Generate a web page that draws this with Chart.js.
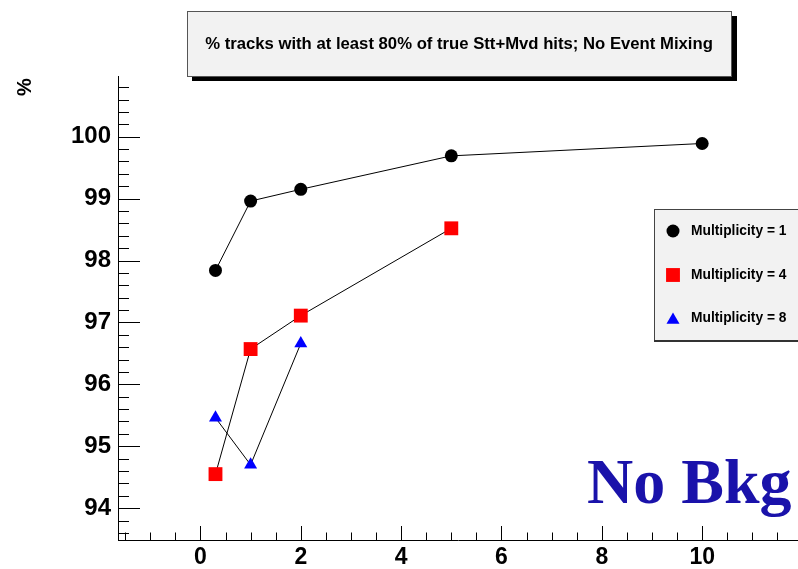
<!DOCTYPE html>
<html>
<head>
<meta charset="utf-8">
<script src="https://cdn.jsdelivr.net/npm/chart.js@4.4.1/dist/chart.umd.min.js"></script>
<style>
  html, body { margin: 0; padding: 0; background: #fff; }
  #wrap { width: 798px; height: 569px; position: relative; }
</style>
</head>
<body>
<div id="wrap"><canvas id="chart" width="798" height="569"></canvas></div>
<script>
// values
var titleText = '% tracks with at least 80% of true Stt+Mvd hits; No Event Mixing';
var xMult1 = [0.3, 1, 2, 5, 10];
var yMult1 = [97.84, 98.96, 99.15, 99.69, 99.89];
var xMult4 = [0.3, 1, 2, 5];
var yMult4 = [94.55, 96.57, 97.11, 98.52];
var xMult8 = [0.3, 1, 2];
var yMult8 = [95.46, 94.70, 96.66];
var xTicks = [0, 2, 4, 6, 8, 10];
var yTicks = [94, 95, 96, 97, 98, 99, 100];
var seriesNames = ['Multiplicity = 1', 'Multiplicity = 4', 'Multiplicity = 8'];

function pairs(xs, ys) {
  return xs.map(function(x, i) { return {x: x, y: ys[i]}; });
}

var markers = [
  {style: 'circle', color: '#000000', radius: 6.5},
  {style: 'rect', color: '#ff0000', radius: 9.8},
  {style: 'triangle', color: '#0000ff', radius: 7.5}
];

function dataset(name, xs, ys, m) {
  return {
    label: name,
    data: pairs(xs, ys),
    borderColor: '#000',
    borderWidth: 1,
    pointStyle: m.style,
    pointRadius: m.radius,
    pointHoverRadius: m.radius,
    pointBackgroundColor: m.color,
    pointBorderColor: m.color,
    pointBorderWidth: 0,
    tension: 0,
    fill: false
  };
}

// root-style furniture: inward ticks, boxes, labels
var furniture = {
  id: 'furniture',
  afterDraw: function(chart) {
    var ctx = chart.ctx;
    var xs = chart.scales.x, ys = chart.scales.y;
    var area = chart.chartArea;
    ctx.save();
    ctx.strokeStyle = '#000';
    ctx.lineWidth = 1;

    // y ticks every 0.2
    for (var i = Math.ceil(ys.min * 5); i <= Math.floor(ys.max * 5); i++) {
      var py = Math.round(ys.getPixelForValue(i / 5)) + 0.5;
      var len = (i % 5 === 0) ? 22 : 11;
      ctx.beginPath();
      ctx.moveTo(area.left, py);
      ctx.lineTo(area.left + len, py);
      ctx.stroke();
    }
    // x ticks every 0.5
    for (var j = Math.ceil(xs.min * 2); j <= Math.floor(xs.max * 2); j++) {
      var px = Math.round(xs.getPixelForValue(j / 2)) + 0.5;
      var l2 = (j % 4 === 0) ? 14 : 7.5;
      ctx.beginPath();
      ctx.moveTo(px, area.bottom);
      ctx.lineTo(px, area.bottom - l2);
      ctx.stroke();
    }

    // title box
    ctx.fillStyle = '#000';
    ctx.fillRect(192, 16, 545, 65);
    ctx.fillStyle = '#f2f2f2';
    ctx.fillRect(187, 11, 545, 66);
    ctx.strokeStyle = '#555';
    ctx.strokeRect(187.5, 11.5, 544, 65);
    ctx.fillStyle = '#000';
    ctx.font = 'bold 16.7px "Liberation Sans", Arial, sans-serif';
    ctx.textAlign = 'center';
    ctx.textBaseline = 'middle';
    ctx.fillText(titleText, 459, 44);

    // legend box
    ctx.fillStyle = '#f2f2f2';
    ctx.fillRect(654, 209, 150, 132);
    ctx.strokeStyle = '#444';
    ctx.lineWidth = 1;
    ctx.strokeRect(654.5, 209.5, 150, 131);
    ctx.fillStyle = '#333';
    ctx.fillRect(654, 340, 150, 2);
    var rows = [231, 275, 318];
    ctx.font = 'bold 13.8px "Liberation Sans", Arial, sans-serif';
    ctx.textAlign = 'left';
    chart.data.datasets.forEach(function(ds, k) {
      ctx.fillStyle = ds.pointBackgroundColor;
      ctx.strokeStyle = ds.pointBackgroundColor;
      Chart.helpers.drawPoint(ctx, {pointStyle: ds.pointStyle, radius: ds.pointRadius, borderWidth: 0}, 673, rows[k] + (ds.pointStyle === 'triangle' ? 2 : 0));
      ctx.fillStyle = '#000';
      ctx.fillText(ds.label, 691, rows[k]);
    });

    // axis title
    ctx.save();
    ctx.translate(25, 87);
    ctx.rotate(-Math.PI / 2);
    ctx.font = 'bold 20px "Liberation Sans", Arial, sans-serif';
    ctx.textAlign = 'center';
    ctx.textBaseline = 'middle';
    ctx.fillStyle = '#000';
    ctx.fillText('%', 0, 0);
    ctx.restore();

    // no background label
    ctx.font = 'bold 64px "Liberation Serif", "Times New Roman", serif';
    ctx.fillStyle = '#1a12aa';
    ctx.textAlign = 'left';
    ctx.textBaseline = 'alphabetic';
    ctx.fillText('No Bkg', 587, 503);
    ctx.restore();
  }
};

var ctx = document.getElementById('chart').getContext('2d');
var chart = new Chart(ctx, {
  type: 'line',
  data: {
    datasets: [
      dataset(seriesNames[0], xMult1, yMult1, markers[0]),
      dataset(seriesNames[1], xMult4, yMult4, markers[1]),
      dataset(seriesNames[2], xMult8, yMult8, markers[2])
    ]
  },
  options: {
    responsive: false,
    animation: false,
    events: [],
    layout: {autoPadding: false, padding: {top: 76, right: 0, left: 0, bottom: 0}},
    plugins: {legend: {display: false}, tooltip: {enabled: false}},
    scales: {
      x: {
        type: 'linear',
        min: -1.643,
        max: 11.91,
        afterFit: function(s) {
          s.height = 29;
          s.paddingLeft = 0;
          s.paddingRight = 0;
        },
        afterBuildTicks: function(s) { s.ticks = xTicks.map(function(v) { return {value: v}; }); },
        grid: {display: false, drawTicks: false},
        border: {display: true, color: '#000', width: 1},
        ticks: {
          color: '#000',
          padding: 4,
          maxRotation: 0,
          autoSkip: false,
          font: {family: '"Liberation Sans", Arial, sans-serif', size: 23, weight: 'bold'}
        }
      },
      y: {
        type: 'linear',
        min: 93.486,
        max: 100.98,
        afterFit: function(s) {
          s.width = 118;
          s.paddingTop = 0;
          s.paddingBottom = 0;
        },
        afterBuildTicks: function(s) { s.ticks = yTicks.map(function(v) { return {value: v}; }); },
        grid: {display: false, drawTicks: false},
        border: {display: true, color: '#000', width: 1},
        ticks: {
          color: '#000',
          padding: 7,
          autoSkip: false,
          font: {family: '"Liberation Sans", Arial, sans-serif', size: 24, weight: 'bold'}
        }
      }
    }
  },
  plugins: [furniture]
});
</script>
</body>
</html>
